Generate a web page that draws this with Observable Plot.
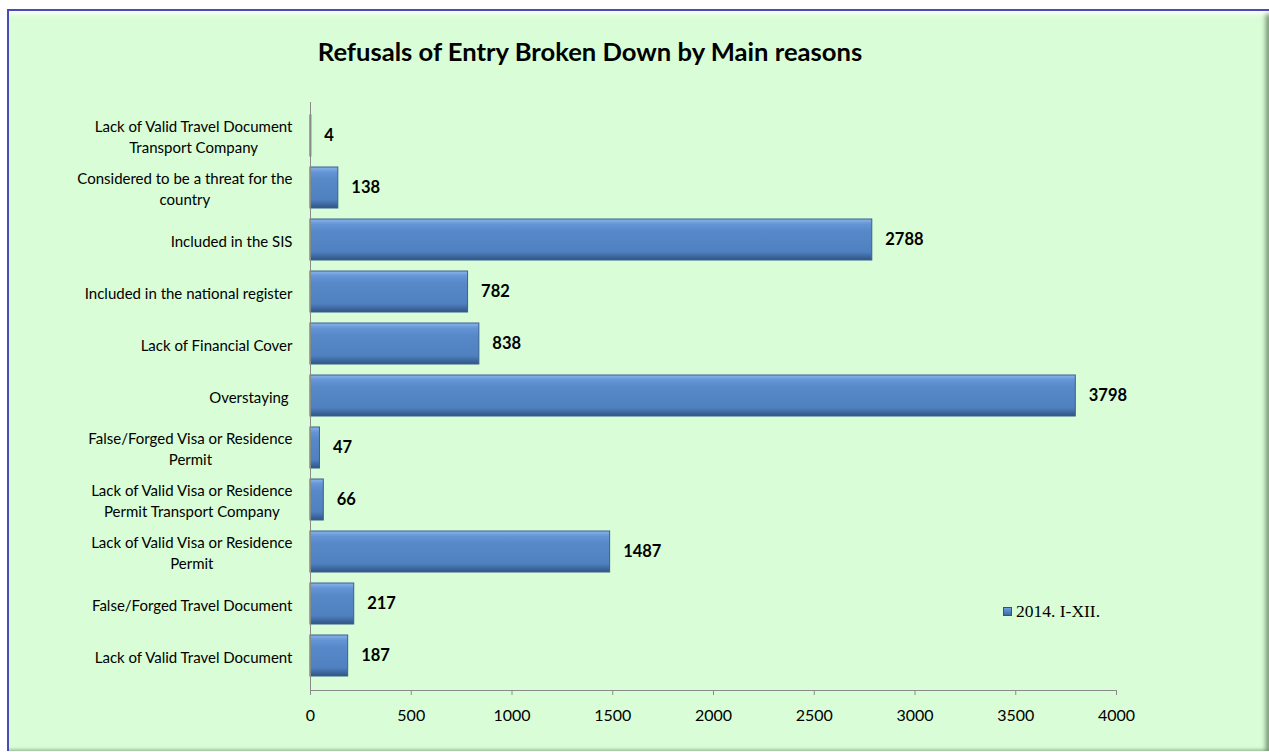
<!DOCTYPE html>
<html><head><meta charset="utf-8">
<script src="https://cdn.jsdelivr.net/npm/d3@7"></script>
<script src="https://cdn.jsdelivr.net/npm/@observablehq/plot@0.6"></script>
<style>
body{margin:0;width:1269px;height:752px;overflow:hidden;background:#fff;font-family:Lato,sans-serif;position:relative}
#panel{position:absolute;left:7px;top:9px;width:1262px;height:742px;background:#d9fdd6;border-top:2px solid #4a4ab8;border-left:2px solid #4a4ab8;box-sizing:border-box;box-shadow:inset 0 6px 5px -3px #fff, inset -6px 0 5px -3px #6f8f6d, inset 0 -4px 3px -2px #a9cba6;}
#chart{position:absolute;left:0;top:0}
#title{position:absolute;top:36px;left:0;width:1180px;text-align:center;font-weight:bold;font-size:25.6px;color:#000}
#legend{position:absolute;left:1003px;top:601px;font-family:"Liberation Serif",serif;font-size:17.5px;color:#000;display:flex;align-items:center}
#legend span.sw{display:inline-block;width:7px;height:7px;margin-right:4px;background:linear-gradient(#6f9fdc,#3b6aa6);border:0.5px solid #2f5480}
</style></head>
<body>
<div id="panel"></div>
<div id="chart"></div>
<div id="title">Refusals of Entry Broken Down by Main reasons</div>
<div id="legend"><span class="sw"></span><span id="legtext"></span></div>
<script>
const categories = [
  "Lack of Valid Travel Document Transport Company",
  "Considered to be a threat for the country",
  "Included in the SIS",
  "Included in the national register",
  "Lack of Financial Cover",
  "Overstaying",
  "False/Forged Visa or Residence Permit",
  "Lack of Valid Visa or Residence Permit Transport Company",
  "Lack of Valid Visa or Residence Permit",
  "False/Forged Travel Document",
  "Lack of Valid Travel Document"
];
const tickLabels = [
  "Lack of Valid Travel Document\nTransport Company",
  "Considered to be a threat for the\ncountry",
  "Included in the SIS",
  "Included in the national register",
  "Lack of Financial Cover",
  "Overstaying ",
  "False/Forged Visa or Residence\nPermit",
  "Lack of Valid Visa or Residence\nPermit Transport Company",
  "Lack of Valid Visa or Residence\nPermit",
  "False/Forged Travel Document",
  "Lack of Valid Travel Document"
];
const values = [4, 138, 2788, 782, 838, 3798, 47, 66, 1487, 217, 187];
const xTicks = [0, 500, 1000, 1500, 2000, 2500, 3000, 3500, 4000];
const seriesName = "2014. I-XII.";

document.getElementById("legtext").textContent = seriesName;

const data = categories.map((c, i) => ({category: c, value: values[i]}));
const labelMap = new Map(categories.map((c, i) => [c, tickLabels[i]]));

const plot = Plot.plot({
  width: 1269, height: 752,
  marginLeft: 310, marginRight: 153, marginTop: 102, marginBottom: 62,
  style: {background: "transparent", fontFamily: "Lato, sans-serif", fontSize: "15px", color: "#000", overflow: "visible"},
  x: {domain: [0, 4000], label: null},
  y: {domain: categories, padding: 0.21, label: null},
  marks: [
    Plot.barX(data, {x: "value", y: "category", fill: "url(#barGrad)", stroke: "#3a5f90", strokeWidth: 1}),
    Plot.text(data, {x: "value", y: "category", text: d => String(d.value), textAnchor: "start", dx: 13, fontWeight: "bold", fontSize: 16.5, fill: "#000"}),
    Plot.ruleX([0], {stroke: "#8a8a8a"}),
    Plot.frame({anchor: "bottom", stroke: "#8a8a8a"}),
    Plot.axisX({ticks: xTicks, tickFormat: d => String(d), tickSize: 5, tickPadding: 14, stroke: "#8a8a8a", label: null, fontSize: 16, fill: "#000"}),
    Plot.axisY({tickSize: 0, tickPadding: 18, tickFormat: d => labelMap.get(d), lineHeight: 1.4, label: null, fontSize: 15, fill: "#000"})
  ]
});

// gradient for bevelled bars
const ns = "http://www.w3.org/2000/svg";
const defs = document.createElementNS(ns, "defs");
defs.innerHTML = `<linearGradient id="barGrad" x1="0" y1="0" x2="0" y2="1">
  <stop offset="0" stop-color="#8bb5ea"/>
  <stop offset="0.12" stop-color="#6495d6"/>
  <stop offset="0.3" stop-color="#5788c8"/>
  <stop offset="0.8" stop-color="#4f80bf"/>
  <stop offset="1" stop-color="#2f5585"/>
</linearGradient>`;
plot.insertBefore(defs, plot.firstChild);
document.getElementById("chart").appendChild(plot);

// center multi-line tick labels like the original
plot.querySelectorAll('g[aria-label="y-axis tick label"] text').forEach(t => {
  const spans = t.querySelectorAll("tspan");
  if (spans.length > 1) {
    let w = 0;
    spans.forEach(s => { w = Math.max(w, s.getComputedTextLength()); });
    t.setAttribute("text-anchor", "middle");
    spans.forEach(s => s.setAttribute("x", -w / 2));
  }
});
</script>
</body></html>
